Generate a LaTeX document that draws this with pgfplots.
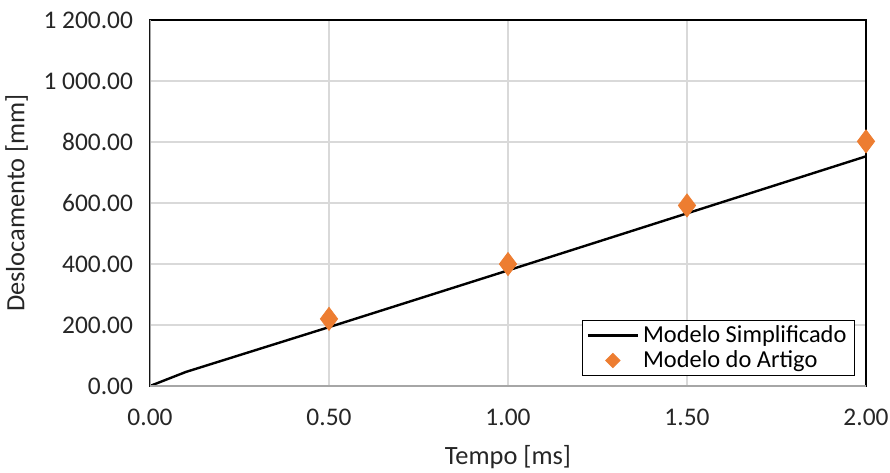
\documentclass[border=0pt]{standalone}
\usepackage{pgfplots}
\pgfplotsset{compat=1.18}
\usepackage{fontspec}
\setmainfont{Carlito}
\definecolor{orangeA}{HTML}{ED7D31}
\definecolor{gridc}{HTML}{D9D9D9}
\definecolor{axc}{HTML}{A6A6A6}
\begin{document}
\begin{tikzpicture}
\begin{axis}[
  name=ax,
  scale only axis,
  width=358pt, height=183pt,
  xmin=0, xmax=2, ymin=0, ymax=1200,
  xtick={0,0.5,1,1.5,2},
  ytick={0,200,400,600,800,1000,1200},
  grid=major,
  major grid style={gridc, line width=0.6pt},
  major tick length=0pt,
  axis line style={black, line width=0.6pt},
  /pgf/number format/assume math mode=true,
  /pgf/number format/.cd, fixed, fixed zerofill, precision=2, 1000 sep={\kern0.22em},
  /pgfplots/.cd,
  scaled ticks=false,
  tick label style={font=\fontsize{12.7}{15}\selectfont, text=black!85},
  xticklabel style={yshift=-8pt},
  yticklabel style={xshift=-5pt},
  xlabel={Tempo [ms]},
  ylabel={Deslocamento [mm]},
  label style={font=\fontsize{13.2}{16}\selectfont, text=black!85},
  xlabel style={yshift=-3pt},
  ylabel style={yshift=1pt},
  legend style={at={(rel axis cs:1,0)}, anchor=south east, xshift=-5.5pt, yshift=5pt,
    draw=black, line width=0.5pt, font=\fontsize{12.2}{13}\selectfont,
    inner xsep=2pt, inner ysep=0.5pt, row sep=-1.5pt, cells={anchor=west}},
  legend cell align=left,
]
\addplot[black, line width=1.2pt, no marks,
  legend image code/.code={\draw[black, line width=1.2pt] (0pt,0pt) -- (25pt,0pt);}]
  coordinates {(0,0) (0.1,46) (0.5,193) (1.0,379) (1.5,566) (2.0,753)};
\addlegendentry{Modelo Simplificado}
\addplot[only marks, mark=diamond*, mark size=5.75pt, orangeA, mark options={fill=orangeA, draw=orangeA},
  legend image code/.code={\draw[orangeA, fill=orangeA] (12.5pt,-3.5pt) -- (16pt,0pt) -- (12.5pt,3.5pt) -- (9pt,0pt) -- cycle;}]
  coordinates {(0.5,220) (1.0,400) (1.5,592) (2.0,802)};
\addlegendentry{Modelo do Artigo}
\draw[axc, line width=0.6pt] (rel axis cs:0,1) -- (rel axis cs:0,0) -- (rel axis cs:1,0);
\end{axis}
\pgfresetboundingbox
\path[use as bounding box] ([shift={(-75pt,-43pt)}]ax.south west) rectangle ([shift={(370pt,193pt)}]ax.south west);
\end{tikzpicture}
\end{document}
